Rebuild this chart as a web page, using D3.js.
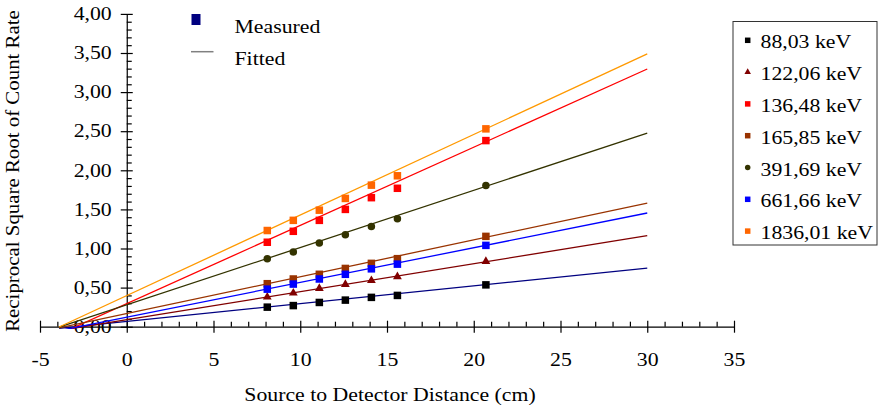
<!DOCTYPE html>
<html>
<head>
<meta charset="utf-8">
<script src="https://cdn.jsdelivr.net/npm/d3@7"></script>
<style>
    body { margin: 0; background: #fff; }
    svg text { font-family: 'Liberation Serif', 'Times New Roman', serif; font-size: 18px; fill: #000; }
</style>
</head>
<body>
<svg id="chart" width="880" height="407"></svg>
<script>
// Source to detector distances (cm)
const distances = [8.1, 9.6, 11.1, 12.6, 14.1, 15.6, 20.7];

// Gamma line energies shown in the legend
const energies = ['88,03 keV', '122,06 keV', '136,48 keV', '165,85 keV', '391,69 keV', '661,66 keV', '1836,01 keV'];

// Measured reciprocal square root of count rate, one array per energy
const rate88 = [0.25, 0.27, 0.31, 0.34, 0.375, 0.40, 0.535];
const rate122 = [0.38, 0.43, 0.49, 0.54, 0.59, 0.64, 0.835];
const rate136 = [1.08, 1.22, 1.36, 1.50, 1.65, 1.77, 2.38];
const rate165 = [0.55, 0.61, 0.67, 0.745, 0.81, 0.87, 1.155];
const rate391 = [0.87, 0.955, 1.07, 1.175, 1.28, 1.38, 1.805];
const rate661 = [0.48, 0.545, 0.61, 0.67, 0.74, 0.80, 1.04];
const rate1836 = [1.23, 1.36, 1.49, 1.64, 1.81, 1.93, 2.53];

// Linear fit of each series: y = slope * x + intercept
const fitSlopes = [0.0227, 0.0358, 0.100, 0.0471, 0.0732, 0.0444, 0.103];
const fitIntercepts = [0.068, 0.090, 0.295, 0.168, 0.280, 0.122, 0.398];
const fitRange = [-3.9, 30];

// Axis ticks
const xTicks = [-5, 0, 5, 10, 15, 20, 25, 30, 35];
const yTicks = [0, 0.5, 1, 1.5, 2, 2.5, 3, 3.5, 4];

const rates = [rate88, rate122, rate136, rate165, rate391, rate661, rate1836];
const markerColors = ['#000000', '#800000', '#ff0000', '#993300', '#333300', '#0000ff', '#ff6600'];
const lineColors = ['#000080', '#800000', '#ff0000', '#993300', '#333300', '#0000ff', '#ff9900'];
const markerShapes = ['square', 'triangle', 'square', 'square', 'circle', 'square', 'square'];

// The chart font is drawn a bit wider than normal
const STRETCH = 1.21;

const svg = d3.select('#chart');

const xScale = d3.scaleLinear().domain([-5, 35]).range([40, 734]);
const yScale = d3.scaleLinear().domain([0, 4]).range([326.7, 13.9]);

// Place a stretched text label
function addText(parent, x, y, str, anchor, angle, stretch) {
    return parent.append('text')
        .attr('transform', `translate(${x},${y}) rotate(${angle || 0}) scale(${stretch || STRETCH},1)`)
        .attr('text-anchor', anchor || 'start')
        .text(str);
}

// Draw one marker of the given shape
function drawMarker(parent, shape, cx, cy, size, color) {
    if (shape === 'square') {
        parent.append('rect')
            .attr('x', cx - size / 2).attr('y', cy - size / 2)
            .attr('width', size).attr('height', size)
            .attr('fill', color);
    } else if (shape === 'circle') {
        parent.append('circle')
            .attr('cx', cx).attr('cy', cy).attr('r', size / 2)
            .attr('fill', color);
    } else {
        parent.append('path')
            .attr('d', d3.symbol().type(d3.symbolTriangle).size(size * size * 0.6)())
            .attr('transform', `translate(${cx},${cy})`)
            .attr('fill', color);
    }
}

// Y axis: major ticks cross the axis, minor ticks point inward
const yAxis = svg.append('g')
    .attr('transform', `translate(${xScale(0)},0)`)
    .call(d3.axisLeft(yScale)
        .tickValues(yTicks)
        .tickSizeOuter(0)
        .tickFormat(d => d.toFixed(2).replace('.', ',')));
yAxis.selectAll('.tick line').attr('x1', 6).attr('x2', -6);
yAxis.selectAll('.tick text')
    .attr('x', -15 / STRETCH)
    .attr('transform', `scale(${STRETCH},1)`);
yAxis.attr('font-size', null).attr('font-family', null);

svg.append('g')
    .attr('transform', `translate(${xScale(0)},0)`)
    .call(d3.axisRight(yScale)
        .tickValues(d3.range(0, 41).map(d => d / 10).filter(d => Math.round(d * 10) % 5 !== 0))
        .tickSize(5)
        .tickFormat(''))
    .select('.domain').remove();

// X axis along y = 0
const xAxis = svg.append('g')
    .attr('transform', `translate(0,${yScale(0)})`)
    .call(d3.axisBottom(xScale)
        .tickValues(xTicks)
        .tickSizeOuter(0)
        .tickFormat(d => String(d)));
xAxis.selectAll('.tick line').attr('y1', -6).attr('y2', 6);
xAxis.selectAll('.tick text')
    .attr('y', 39.5).attr('dy', null)
    .attr('transform', `scale(${STRETCH},1)`);
xAxis.attr('font-size', null).attr('font-family', null);

svg.append('g')
    .attr('transform', `translate(0,${yScale(0)})`)
    .call(d3.axisTop(xScale)
        .tickValues(d3.range(-5, 36).filter(d => d % 5 !== 0))
        .tickSize(5)
        .tickFormat(''))
    .select('.domain').remove();

svg.selectAll('.domain, .tick line').attr('stroke', '#000').attr('stroke-width', 1.2);

// Axis titles
addText(svg, 390, 401, 'Source to Detector Distance (cm)', 'middle');
addText(svg, 19, 171, 'Reciprocal Square Root of Count Rate', 'middle', -90, 1.16);

// Fitted lines, clipped at the bottom of the plot
svg.append('clipPath').attr('id', 'plot-clip')
    .append('rect')
    .attr('x', xScale(-5)).attr('y', yScale(4))
    .attr('width', xScale(35) - xScale(-5))
    .attr('height', yScale(-0.03) - yScale(4));

const lineGroup = svg.append('g').attr('clip-path', 'url(#plot-clip)');
const line = d3.line().x(d => xScale(d[0])).y(d => yScale(d[1]));

fitSlopes.forEach((m, i) => {
    const pts = fitRange.map(x => [x, m * x + fitIntercepts[i]]);
    lineGroup.append('path')
        .attr('d', line(pts))
        .attr('fill', 'none')
        .attr('stroke', lineColors[i])
        .attr('stroke-width', 1.3);
});

// Measured points
const pointGroup = svg.append('g');
rates.forEach((series, i) => {
    series.forEach((v, j) => {
        drawMarker(pointGroup, markerShapes[i], xScale(distances[j]), yScale(v), 7.5, markerColors[i]);
    });
});

// Legend for marker / line meaning
svg.append('rect')
    .attr('x', 191.5).attr('y', 14).attr('width', 9).attr('height', 11)
    .attr('fill', '#000080');
addText(svg, 234.5, 33, 'Measured');
svg.append('line')
    .attr('x1', 191).attr('x2', 213.5).attr('y1', 51.7).attr('y2', 51.7)
    .attr('stroke', '#808080').attr('stroke-width', 1.5);
addText(svg, 234.5, 65, 'Fitted');

// Energy legend
const legend = svg.append('g');
legend.append('rect')
    .attr('x', 733).attr('y', 21.5).attr('width', 144).attr('height', 223.5)
    .attr('fill', '#fff').attr('stroke', '#333').attr('stroke-width', 1);

energies.forEach((label, i) => {
    const baseline = 48.3 + i * 31.8;
    drawMarker(legend, markerShapes[i], 747.7, baseline - 8, 5.5, markerColors[i]);
    addText(legend, 760.5, baseline, label);
});
</script>
</body>
</html>
